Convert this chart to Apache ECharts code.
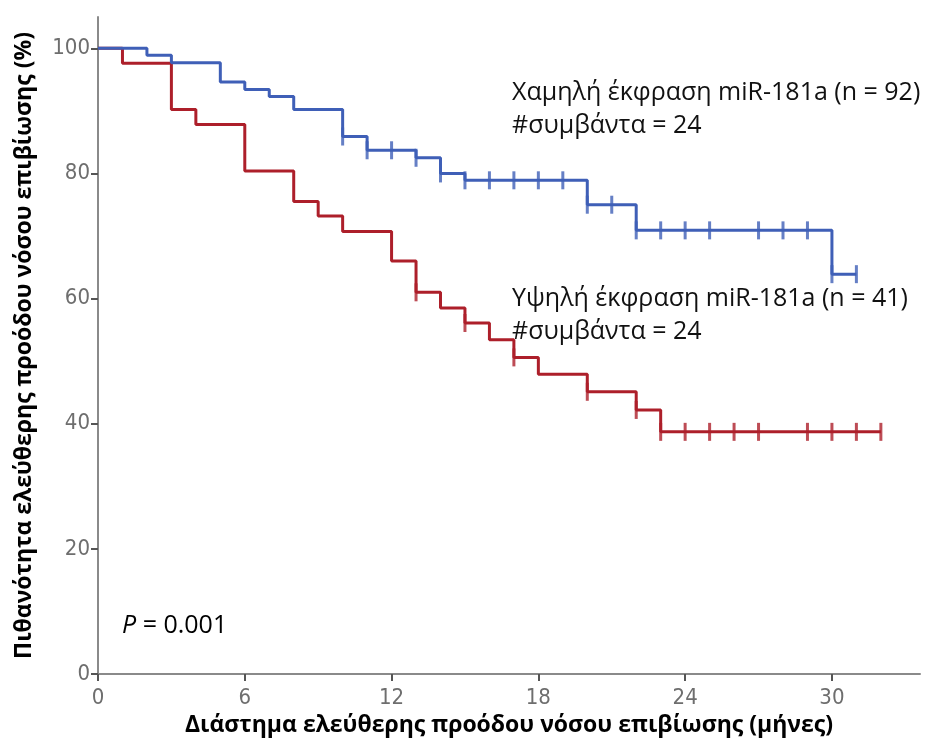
<!DOCTYPE html>
<html>
<head>
<meta charset="utf-8">
<script src="https://cdn.jsdelivr.net/npm/echarts@6/dist/echarts.min.js"></script>
<style>
  html, body { margin: 0; padding: 0; background: #fff; }
  #main { width: 933px; height: 747px; }
</style>
</head>
<body>
<div id="main"></div>
<script>
var chart = echarts.init(document.getElementById('main'));

// Kaplan-Meier steps: time (months) and survival (%) after each drop
var lowTimes = [0, 2, 3, 5, 6, 7, 8, 10, 11, 13, 14, 15, 20, 22, 30, 31];
var lowSurv = [100, 98.9, 97.7, 94.6, 93.4, 92.3, 90.2, 85.9, 83.7, 82.5, 80.0, 78.9, 75.0, 70.9, 63.9, 63.9];
var lowCensor = [10, 11, 12, 13, 14, 15, 16, 17, 18, 19, 20, 21, 22, 23, 24, 25, 27, 28, 29, 30, 31];

var highTimes = [0, 1, 3, 4, 6, 8, 9, 10, 12, 13, 14, 15, 16, 17, 18, 20, 22, 23, 32];
var highSurv = [100, 97.6, 90.2, 87.8, 80.4, 75.5, 73.2, 70.7, 66.0, 61.0, 58.5, 56.1, 53.4, 50.6, 47.9, 45.1, 42.2, 38.7, 38.7];
var highCensor = [13, 15, 17, 20, 22, 23, 24, 25, 26, 27, 29, 30, 31, 32];

var xTicks = [0, 6, 12, 18, 24, 30];
var yTicks = [0, 20, 40, 60, 80, 100];

var blue = '#3f5fb7';
var red = '#ad1f2a';
var gray = '#8a8a8a';

function steps(times, surv) {
  return times.map(function (t, i) { return [t, surv[i]]; });
}
function survAt(times, surv, t) {
  var s = surv[0];
  for (var i = 0; i < times.length; i++) {
    if (times[i] <= t) s = surv[i];
  }
  return s;
}
function censorPts(times, surv, cens) {
  return cens.map(function (t) { return [t, survAt(times, surv, t)]; });
}

var titleFont = { fontFamily: 'Open Sans', fontWeight: 'bold', fontSize: 23, color: '#000' };
var tickFont = {
  color: '#6e6e6e',
  fontFamily: '"DejaVu Sans Condensed", "Liberation Sans Narrow", sans-serif',
  fontSize: 22
};

var option = {
  animation: false,
  backgroundColor: '#fff',
  grid: { left: 98, right: 13, top: 17, bottom: 73 },
  xAxis: {
    type: 'value',
    min: 0,
    max: 33.6,
    interval: 6,
    name: 'Διάστημα ελεύθερης προόδου νόσου επιβίωσης (μήνες)',
    nameLocation: 'middle',
    nameGap: 36,
    nameTextStyle: titleFont,
    splitLine: { show: false },
    axisLine: { lineStyle: { color: gray, width: 2 } },
    axisTick: { length: 7, lineStyle: { color: '#555', width: 2 }, customValues: xTicks },
    axisLabel: Object.assign({ customValues: xTicks, margin: 13 }, tickFont)
  },
  yAxis: {
    type: 'value',
    min: 0,
    max: 105,
    interval: 20,
    name: 'Πιθανότητα ελεύθερης προόδου νόσου επιβίωσης (%)',
    nameLocation: 'middle',
    nameRotate: 90,
    nameGap: 62,
    nameTextStyle: titleFont,
    splitLine: { show: false },
    axisLine: { show: true, lineStyle: { color: gray, width: 2 } },
    axisTick: { show: true, length: 7, lineStyle: { color: '#555', width: 2 }, customValues: yTicks },
    axisLabel: Object.assign({ customValues: yTicks, margin: 8 }, tickFont)
  },
  series: [
    {
      type: 'line',
      step: 'end',
      data: steps(lowTimes, lowSurv),
      symbol: 'none',
      lineStyle: { color: blue, width: 3 },
      z: 3
    },
    {
      type: 'scatter',
      data: censorPts(lowTimes, lowSurv, lowCensor),
      symbol: 'rect',
      symbolSize: [3, 18],
      itemStyle: { color: blue },
      z: 3
    },
    {
      type: 'line',
      step: 'end',
      data: steps(highTimes, highSurv),
      symbol: 'none',
      lineStyle: { color: red, width: 3 },
      z: 2
    },
    {
      type: 'scatter',
      data: censorPts(highTimes, highSurv, highCensor),
      symbol: 'rect',
      symbolSize: [3, 18],
      itemStyle: { color: red },
      z: 2
    }
  ],
  graphic: [
    {
      type: 'text', left: 512, top: 76,
      style: {
        text: 'Χαμηλή έκφραση miR-181a (n = 92)\n#συμβάντα = 24',
        font: '25px "Open Sans"', fill: '#111', lineHeight: 33
      }
    },
    {
      type: 'text', left: 512, top: 282,
      style: {
        text: 'Υψηλή έκφραση miR-181a (n = 41)\n#συμβάντα = 24',
        font: '25px "Open Sans"', fill: '#111', lineHeight: 33
      }
    },
    {
      type: 'text', left: 122, top: 613,
      style: {
        rich: {
          i: { fontFamily: 'Open Sans', fontStyle: 'italic', fontSize: 25, color: '#111' },
          n: { fontFamily: 'Open Sans', fontSize: 25, color: '#111' }
        },
        text: '{i|P}{n| = 0.001}'
      }
    }
  ]
};

chart.setOption(option);
</script>
</body>
</html>
